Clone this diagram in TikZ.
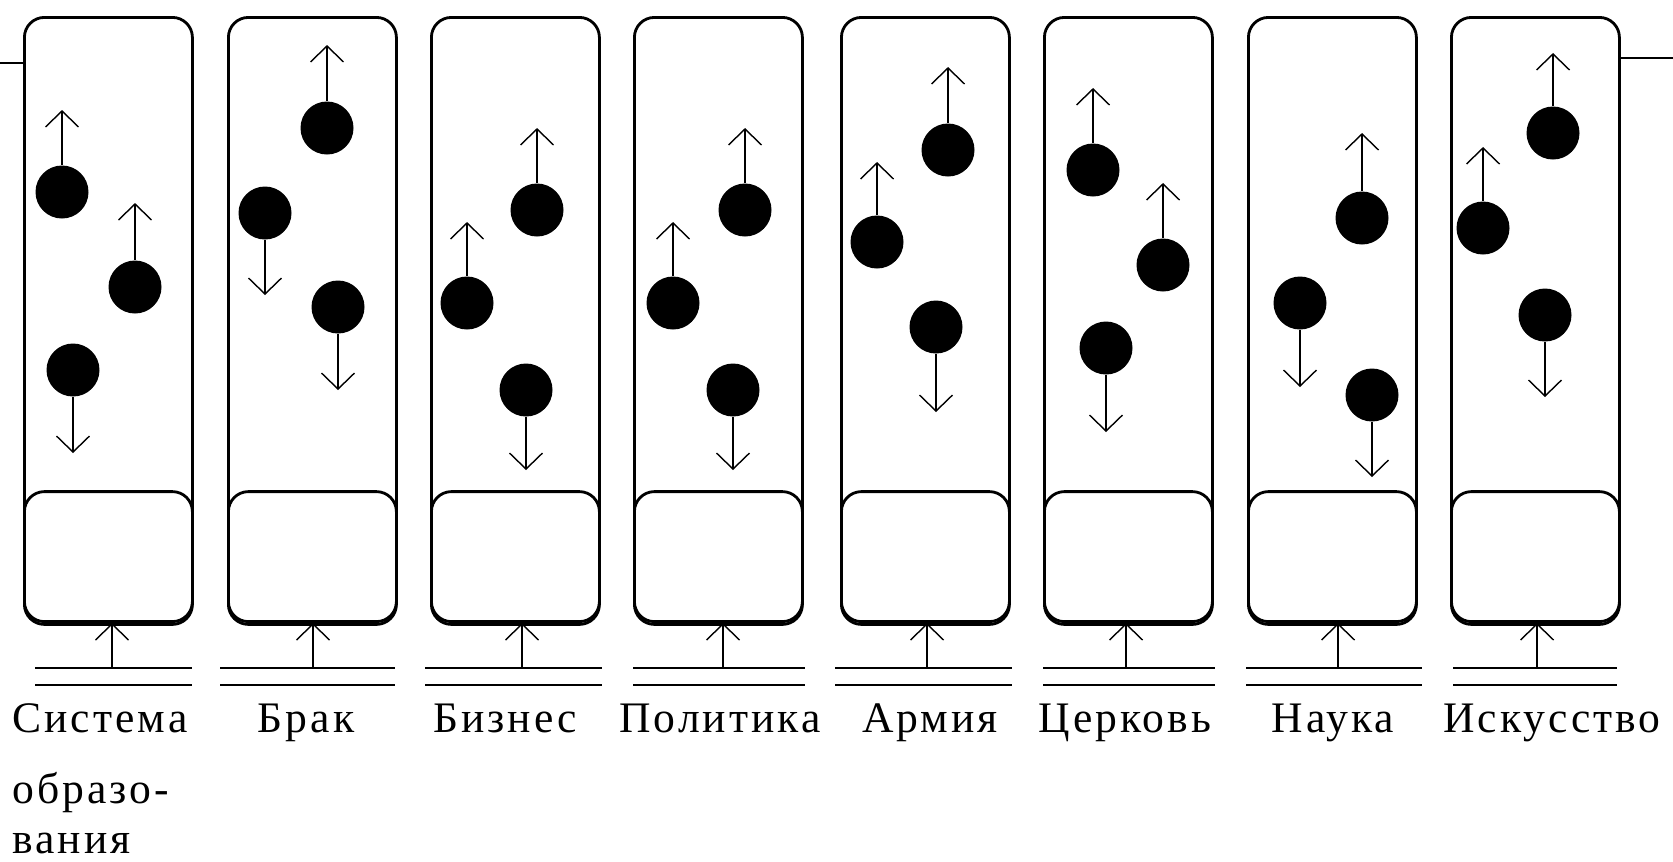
\documentclass[tikz,border=0pt]{standalone}
\usepackage{fontspec}
\setmainfont{Liberation Serif}[LetterSpace=7]
\usetikzlibrary{arrows.meta}

\begin{document}
\begin{tikzpicture}[x=0.1mm,y=-0.1mm]
  \tikzstyle{every node}=[font=\fontsize{12.4}{14}\selectfont]
  \tikzstyle{column}=[draw,line width=0.8pt,rounded corners=2mm,minimum width=16.8mm,minimum height=60.7mm,inner sep=0pt,anchor=north west]
  \tikzstyle{socket}=[draw,line width=0.8pt,rounded corners=2mm,minimum width=16.8mm,minimum height=13mm,inner sep=0pt,anchor=south west]
  \tikzstyle{ball}=[circle,fill,inner sep=0pt,minimum size=5.3mm]
  \tikzstyle{move}=[line width=0.6pt,-{Straight Barb[length=1.6mm,width=3.3mm,line width=0.4pt]}]
  \tikzstyle{rail}=[line width=0.8pt]
  \useasboundingbox (0,0) rectangle (1673,861);

  \foreach \i/\l/\bl/\br/\a in {1/23/35/192/112, 2/227/220/395/313, 3/430/425/602/522,
      4/633/633/805/723, 5/840/835/1012/927, 6/1043/1043/1215/1126,
      7/1247/1246/1422/1338, 8/1450/1453/1617/1537}{
    \node[column] (c\i) at (\l,16) {};
    \node[socket] (s\i) at (\l,623) {};
    \coordinate (b\i) at (\a,668);
    \draw[rail] (\bl,668) -- (\br,668) (\bl,685) -- (\br,685);
    \draw[move] (b\i) -- (b\i |- s\i.south);
  }

  \foreach \n/\x/\y/\e in {1a/62/192/110, 1b/135/287/203, 1c/73/370/453,
      2a/327/128/45, 2b/265/213/295, 2c/338/307/390,
      3a/537/210/128, 3b/467/303/222, 3c/526/390/470,
      4a/745/210/128, 4b/673/303/222, 4c/733/390/470,
      5a/948/150/67, 5b/877/242/162, 5c/936/327/412,
      6a/1093/170/88, 6b/1163/265/183, 6c/1106/348/432,
      7a/1362/218/133, 7b/1300/303/387, 7c/1372/395/477,
      8a/1553/133/53, 8b/1483/228/147, 8c/1545/315/397}{
    \node[ball] (d\n) at (\x,\y) {};
    \coordinate (e\n) at (\x,\e);
    \draw[move] (d\n) -- (e\n);
  }

  \coordinate (west) at (0,63);
  \coordinate (east) at (1673,58);
  \draw[rail] (west) -- (west -| c1.west);
  \draw[rail] (east -| c8.east) -- (east);

  \node[anchor=base west] (l1) at (0,732) {Система};
  \node[anchor=base west] (l1b) at (0,803) {образо-};
  \node[anchor=base west] (l1c) at (0,853) {вания};
  \node[anchor=base] (l2) at (306,732) {Брак};
  \node[anchor=base] (l3) at (505,732) {Бизнес};
  \node[anchor=base] (l4) at (720,732) {Политика};
  \node[anchor=base] (l5) at (930,732) {Армия};
  \node[anchor=base] (l6) at (1125,732) {Церковь};
  \node[anchor=base] (l7) at (1333,732) {Наука};
  \node[anchor=base] (l8) at (1552,732) {Искусство};
\end{tikzpicture}
\end{document}
